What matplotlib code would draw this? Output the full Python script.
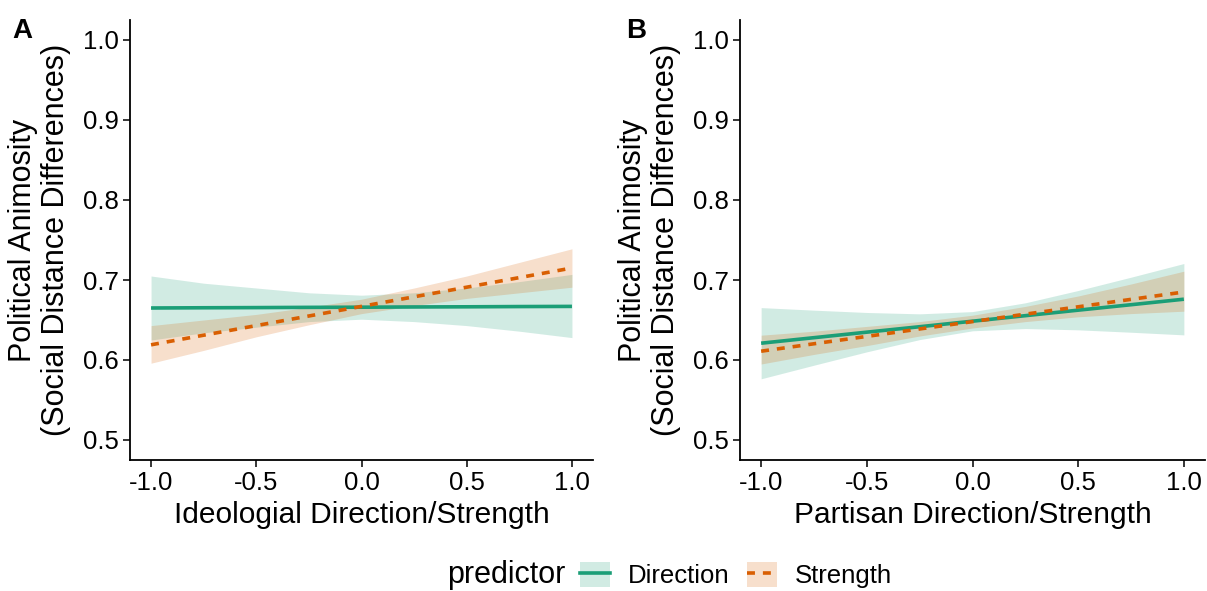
import numpy as np
import matplotlib
matplotlib.use("Agg")
import matplotlib.pyplot as plt
from matplotlib.lines import Line2D
from matplotlib.patches import Patch

plt.rcParams['font.family'] = ['Liberation Sans', 'DejaVu Sans']

x = [-1.0, -0.75, -0.5, -0.25, 0.0, 0.25, 0.5, 0.75, 1.0]

# panel A: ideology
a_dir = [0.665, 0.6653, 0.6655, 0.6658, 0.666, 0.6663, 0.6665, 0.6668, 0.667]
a_dir_hi = [0.705, 0.696, 0.690, 0.684, 0.681, 0.684, 0.690, 0.698, 0.707]
a_dir_lo = [0.625, 0.634, 0.641, 0.648, 0.651, 0.648, 0.643, 0.636, 0.628]
a_str = [0.619, 0.631, 0.643, 0.655, 0.667, 0.679, 0.691, 0.703, 0.715]
a_str_hi = [0.643, 0.650, 0.657, 0.666, 0.676, 0.690, 0.705, 0.722, 0.739]
a_str_lo = [0.596, 0.612, 0.629, 0.644, 0.658, 0.668, 0.677, 0.684, 0.691]

# panel B: partisanship
b_dir = [0.621, 0.6279, 0.6348, 0.6416, 0.6485, 0.6554, 0.6623, 0.6691, 0.676]
b_dir_hi = [0.6655, 0.6623, 0.6594, 0.6577, 0.6605, 0.6715, 0.6869, 0.7035, 0.7206]
b_dir_lo = [0.5765, 0.5935, 0.6102, 0.6255, 0.6365, 0.6393, 0.6377, 0.6347, 0.6314]
b_str = [0.611, 0.6203, 0.6295, 0.6388, 0.648, 0.6573, 0.6665, 0.6758, 0.685]
b_str_hi = [0.631, 0.636, 0.642, 0.648, 0.656, 0.667, 0.680, 0.695, 0.711]
b_str_lo = [0.595, 0.607, 0.618, 0.630, 0.640, 0.648, 0.654, 0.658, 0.661]

xticks = [-1.0, -0.5, 0.0, 0.5, 1.0]
yticks = [0.5, 0.6, 0.7, 0.8, 0.9, 1.0]

green = '#1B9E77'
orange = '#D95F02'

fig = plt.figure(figsize=(12.07, 5.91), dpi=100)
axA = fig.add_axes([130/1207, 1-460/591, 463/1207, 440/591])
axB = fig.add_axes([740/1207, 1-460/591, 465/1207, 440/591])


def panel(ax, d, dhi, dlo, s, shi, slo, xlabel, tag):
    ax.fill_between(x, dlo, dhi, color=green, alpha=0.2, lw=0)
    ax.plot(x, d, color=green, lw=2.6, solid_capstyle='butt')
    ax.fill_between(x, slo, shi, color=orange, alpha=0.2, lw=0)
    ax.plot(x, s, color=orange, lw=2.6, dashes=(2.2, 2.2))
    ax.set_xlim(-1.1, 1.1)
    ax.set_ylim(0.475, 1.025)
    ax.set_xticks(xticks)
    ax.set_xticklabels(['-1.0', '-0.5', '0.0', '0.5', '1.0'])
    ax.set_yticks(yticks)
    ax.set_yticklabels(['%.1f' % v for v in yticks])
    for sp in ['top', 'right']:
        ax.spines[sp].set_visible(False)
    for sp in ['left', 'bottom']:
        ax.spines[sp].set_linewidth(1.3)
    ax.tick_params(labelsize=18.5, length=5, width=1.1, colors='black', pad=3)
    ax.set_xlabel(xlabel, fontsize=21.5, labelpad=4)
    ax.set_ylabel('Political Animosity\n(Social Distance Differences)', fontsize=22,
                  linespacing=1.1, labelpad=9)
    ax.text(-0.255, 1.005, tag, transform=ax.transAxes, fontsize=20, fontweight='bold',
            va='top', ha='left')


panel(axA, a_dir, a_dir_hi, a_dir_lo, a_str, a_str_hi, a_str_lo,
      'Ideologial Direction/Strength', 'A')
panel(axB, b_dir, b_dir_hi, b_dir_lo, b_str, b_str_hi, b_str_lo,
      'Partisan Direction/Strength', 'B')
axB.texts[0].set_x(-0.245)

h_dir = (Patch(facecolor=green, alpha=0.2, lw=0), Line2D([], [], color=green, lw=2.6))
h_str = (Patch(facecolor=orange, alpha=0.2, lw=0),
         Line2D([], [], color=orange, lw=2.6, dashes=(2.2, 2.2)))
fig.text(447/1207, 1-575/591, 'predictor', fontsize=22, va='center', ha='left')
fig.legend([h_dir, h_str], ['Direction', 'Strength'], loc='center left',
           bbox_to_anchor=(557/1207, 1-575/591), ncol=2, frameon=False,
           fontsize=18.5, handlelength=1.15, handleheight=1.15, handletextpad=0.7,
           columnspacing=0.7)

fig.savefig('out.png', dpi=100)
